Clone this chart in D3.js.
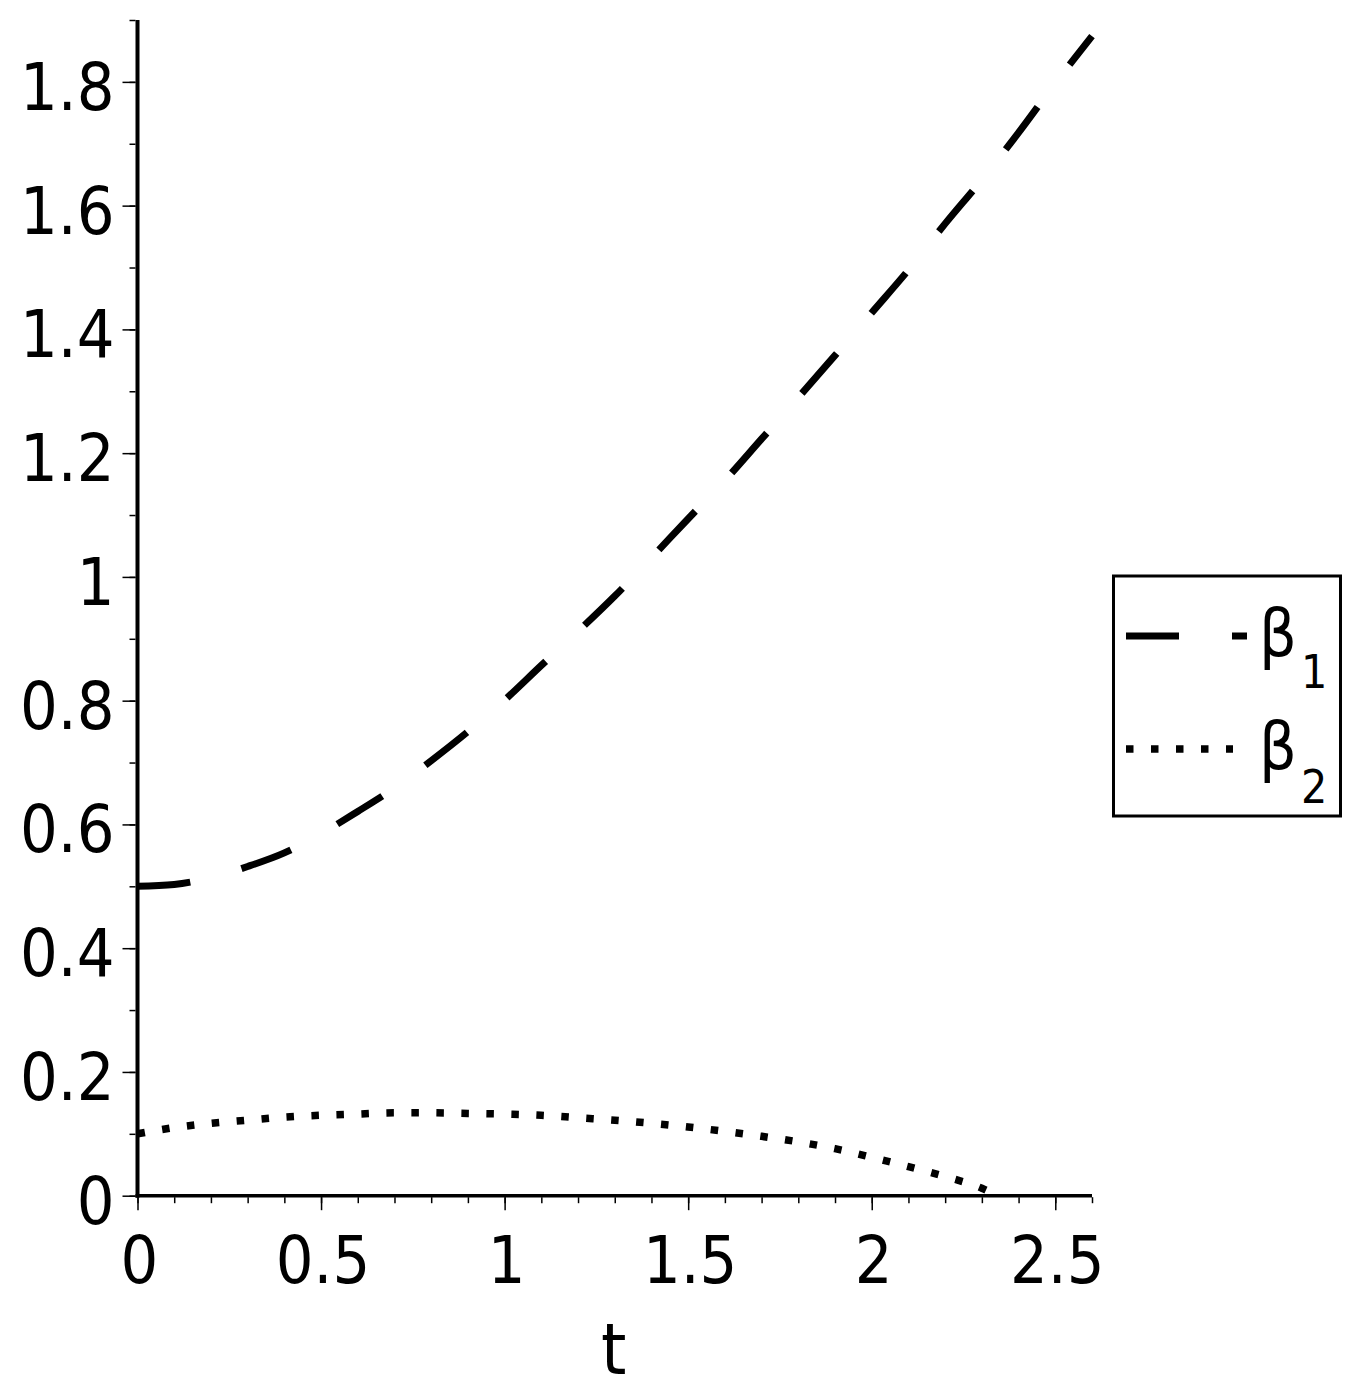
<!DOCTYPE html>
<html>
<head>
<meta charset="utf-8">
<script src="https://cdn.jsdelivr.net/npm/d3@7"></script>
<style>
  html, body { margin: 0; padding: 0; background: #fff; }
  svg { display: block; }
  text { font-family: "DejaVu Sans Condensed", "DejaVu Sans", sans-serif; fill: #000; }
</style>
</head>
<body>
<svg id="chart" width="1360" height="1398"></svg>
<script>
// ---- data ----
const tValues1 = [0, 0.1, 0.2, 0.3, 0.4, 0.5, 0.6, 0.7, 0.8, 0.9, 1.0, 1.1, 1.2, 1.3,
                  1.4, 1.5, 1.6, 1.7, 1.8, 1.9, 2.0, 2.1, 2.2, 2.3, 2.4, 2.5, 2.6];
const negBeta1 = [0.500, 0.503, 0.514, 0.532, 0.554, 0.585, 0.621, 0.659, 0.703, 0.750,
                  0.801, 0.857, 0.912, 0.969, 1.031, 1.094, 1.156, 1.223, 1.290, 1.358,
                  1.427, 1.496, 1.571, 1.642, 1.718, 1.798, 1.874];
const tValues2 = [0, 0.1, 0.2, 0.3, 0.4, 0.5, 0.6, 0.7, 0.8, 0.9, 1.0, 1.1, 1.2, 1.3,
                  1.4, 1.5, 1.6, 1.7, 1.8, 1.9, 2.0, 2.1, 2.2, 2.3, 2.35];
const beta2    = [0.100, 0.110, 0.117, 0.122, 0.127, 0.130, 0.132, 0.134, 0.134, 0.133,
                  0.132, 0.130, 0.126, 0.122, 0.117, 0.111, 0.104, 0.096, 0.087, 0.076,
                  0.062, 0.047, 0.031, 0.012, -0.002];
const xMajorTicks = [0, 0.5, 1, 1.5, 2, 2.5];
const xTickLabels = ["0", "0.5", "1", "1.5", "2", "2.5"];
const yMajorTicks = [0, 0.2, 0.4, 0.6, 0.8, 1, 1.2, 1.4, 1.6, 1.8];
const yTickLabels = ["0", "0.2", "0.4", "0.6", "0.8", "1", "1.2", "1.4", "1.6", "1.8"];
const xMinorTicks = d3.range(0, 27).map(i => i / 10);
const yMinorTicks = d3.range(0, 20).map(i => i / 10);
const seriesNames = ["-β", "β"];
const seriesSubs = ["1", "2"];
const xLabel = "t";

// ---- layout ----
const svg = d3.select("#chart");
const x = d3.scaleLinear().domain([0, 2.6]).range([137.5, 1092]);
const y = d3.scaleLinear().domain([0, 1.9]).range([1195.7, 20]);

svg.append("defs").append("clipPath").attr("id", "plotclip")
  .append("rect").attr("x", x(0)).attr("y", y(1.9)).attr("width", x(2.6) - x(0) + 10)
  .attr("height", y(0) - y(1.9) + 4);

// curves
const line = d3.line().x(d => x(d[0])).y(d => y(d[1])).curve(d3.curveMonotoneX);
const d1 = tValues1.map((t, i) => [t, negBeta1[i]]);
const d2 = tValues2.map((t, i) => [t, beta2[i]]);

const plot = svg.append("g").attr("clip-path", "url(#plotclip)");
plot.append("path").datum(d1).attr("d", line)
  .attr("fill", "none").attr("stroke", "#000").attr("stroke-width", 7)
  .attr("stroke-dasharray", "53,53").attr("stroke-linecap", "butt");
plot.append("path").datum(d2).attr("d", line)
  .attr("fill", "none").attr("stroke", "#000").attr("stroke-width", 7.5)
  .attr("stroke-dasharray", "7.5,17.5").attr("stroke-linecap", "butt");

// minor ticks
const xMinor = d3.axisBottom(x).tickValues(xMinorTicks).tickSize(6).tickFormat("");
const yMinor = d3.axisLeft(y).tickValues(yMinorTicks).tickSize(6).tickFormat("");
svg.append("g").attr("transform", `translate(0,${y(0) + 1.5})`).call(xMinor)
  .call(g => g.select(".domain").remove())
  .selectAll("line").attr("stroke-width", 1.5);
svg.append("g").attr("transform", `translate(${x(0) - 2},0)`).call(yMinor)
  .call(g => g.select(".domain").remove())
  .selectAll("line").attr("stroke-width", 1.5);

// major ticks with labels
const xMajor = d3.axisBottom(x).tickValues(xMajorTicks).tickSize(13)
  .tickFormat((d, i) => xTickLabels[i]);
const gx = svg.append("g").attr("transform", `translate(0,${y(0) + 1.5})`).call(xMajor);
gx.select(".domain").remove();
gx.selectAll("line").attr("stroke-width", 1.5);
gx.selectAll("text").attr("font-size", 66).attr("font-family", null)
  .attr("dy", null).attr("y", 86).attr("dx", 1.5);

const yMajor = d3.axisLeft(y).tickValues(yMajorTicks).tickSize(13)
  .tickFormat((d, i) => yTickLabels[i]);
const gy = svg.append("g").attr("transform", `translate(${x(0) - 2},0)`).call(yMajor);
gy.select(".domain").remove();
gy.selectAll("line").attr("stroke-width", 1.5);
gy.selectAll("text").attr("font-size", 66).attr("font-family", null)
  .attr("dy", null).attr("x", -21).attr("y", 27.5);

// axis lines
svg.append("line").attr("x1", x(0)).attr("x2", x(0)).attr("y1", y(1.9)).attr("y2", y(0) + 2)
  .attr("stroke", "#000").attr("stroke-width", 4);
svg.append("line").attr("x1", x(0) - 2).attr("x2", x(2.6)).attr("y1", y(0)).attr("y2", y(0))
  .attr("stroke", "#000").attr("stroke-width", 3.5);

// x-axis label
svg.append("text").attr("x", (x(0) + x(2.6)) / 2 - 1).attr("y", 1374)
  .attr("text-anchor", "middle").attr("font-size", 72).text(xLabel);

// legend
const lg = svg.append("g");
lg.append("rect").attr("x", 1113.5).attr("y", 576).attr("width", 227).attr("height", 240)
  .attr("fill", "#fff").attr("stroke", "#000").attr("stroke-width", 3);
const legendY = [636, 749];
const dashes = ["53,53", "7.5,17.5"];
const widths = [7, 7.5];
legendY.forEach((ly, i) => {
  lg.append("line").attr("x1", 1126).attr("x2", i === 0 ? 1247 : 1233)
    .attr("y1", ly).attr("y2", ly).attr("stroke", "#000")
    .attr("stroke-width", widths[i]).attr("stroke-dasharray", dashes[i]);
  const t = lg.append("text").attr("x", 1259).attr("y", ly + 20).attr("font-size", 66);
  t.append("tspan").text(seriesNames[i].replace("-", ""));
  t.append("tspan").attr("font-size", 46).attr("dx", 4).attr("dy", i === 0 ? 32 : 34)
    .text(seriesSubs[i]);
});
</script>
</body>
</html>
